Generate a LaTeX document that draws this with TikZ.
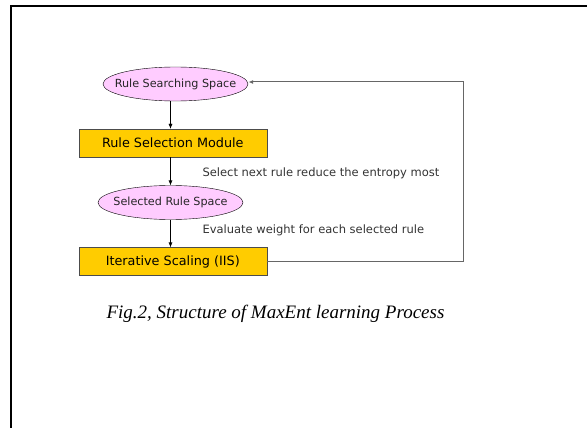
\documentclass[tikz,border=0pt]{standalone}
\usepackage{fontspec}
\setmainfont{Liberation Serif}
\setsansfont{DejaVu Sans}
\usetikzlibrary{shapes.geometric, arrows.meta}

\definecolor{spacepink}{HTML}{FFCCFF}
\definecolor{modulegold}{HTML}{FFCC00}
\definecolor{loopgray}{HTML}{666666}

\begin{document}
\begin{tikzpicture}[x=1pt, y=-1pt,
    space/.style={ellipse, draw=black, fill=spacepink, minimum width=145pt,
      minimum height=34pt, inner xsep=-12pt, inner ysep=0pt,
      font=\sffamily\fontsize{11.2}{13}\selectfont, text=black!85},
    module/.style={rectangle, draw=black!70, fill=modulegold, minimum width=188pt,
      minimum height=28pt, inner sep=0pt, font=\sffamily\fontsize{12.8}{15}\selectfont},
    note/.style={anchor=west, font=\sffamily\fontsize{11.5}{13}\selectfont, text=black!80},
    flow/.style={-{Latex[length=5pt, width=4pt]}, black}]
  \useasboundingbox (0, 0) rectangle (587, 428);
  % frame
  \draw[line width=2pt] (11, 428) -- (11, 6) -- (587, 6);

  \node[space] (search) at (175.5, 84) {Rule Searching Space};
  \node[module] (select) at (172.8, 143) {Rule Selection Module};
  \node[space] (chosen) at (170.5, 202.5) {Selected Rule Space};
  \node[module] (iis) at (172.8, 261.5) {Iterative Scaling (IIS)};
  \coordinate (axis) at (170.5, 0);
  \coordinate (loop) at (463, 82);

  \draw[flow] (search.south -| axis) -- (select.north -| axis);
  \draw[flow] (select.south -| axis) -- (chosen.north -| axis);
  \draw[flow] (chosen.south -| axis) -- (iis.north -| axis);
  \draw[flow, draw=loopgray, line width=1pt] (iis.east) -| (loop) -- (search.east |- loop);

  \node[note] (pick) at (199, 173) {Select next rule reduce the entropy most};
  \node[note] (weigh) at (199, 230) {Evaluate weight for each selected rule};

  \node[anchor=west, font=\itshape\fontsize{19}{22}\selectfont] (caption) at (103, 314)
    {Fig.2, Structure of MaxEnt learning Process};
\end{tikzpicture}
\end{document}
